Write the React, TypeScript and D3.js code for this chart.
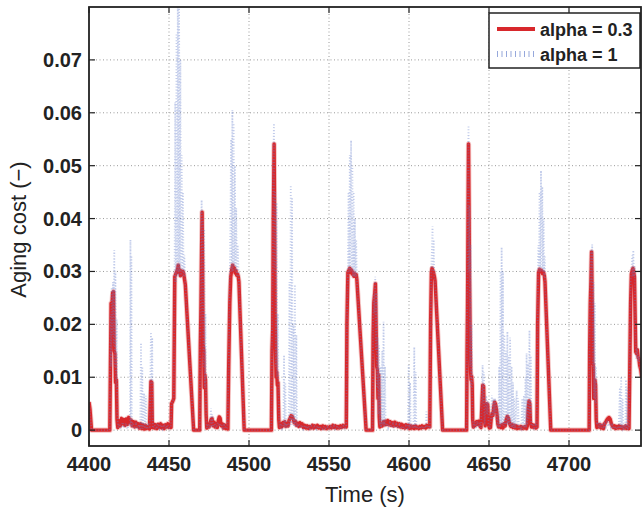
import React from "react";
import * as d3 from "d3";

const xTicks = [4400, 4450, 4500, 4550, 4600, 4650, 4700];
const yTicks = [0, 0.01, 0.02, 0.03, 0.04, 0.05, 0.06, 0.07];
const yTickLabels = ["0", "0.01", "0.02", "0.03", "0.04", "0.05", "0.06", "0.07"];
const seriesNames = ["alpha = 0.3", "alpha = 1"];

// alpha = 0.3 (red): [time, aging cost]
const alpha03: [number, number][] = [
  [4400, 0.0053], [4400.6, 0.004], [4401.6, 0], [4413, 0], [4413.4, 0.012], [4413.8, 0.024],
  [4414.3, 0.0235], [4414.8, 0.026], [4415.3, 0.0262], [4415.7, 0.015], [4416.2, 0.0145],
  [4416.6, 0.009], [4417.1, 0.0095], [4417.5, 0.002], [4418, 0.0005], [4418.7, 0.0018],
  [4419.5, 0.0008], [4420.3, 0.0022], [4421, 0.0012], [4421.8, 0.002], [4422.5, 0.0009],
  [4423.3, 0.0021], [4424, 0.0011], [4424.8, 0.0024], [4425.5, 0.0014], [4426.3, 0.0019],
  [4427, 0.0008], [4427.8, 0.0016], [4428.6, 0.0006], [4429.3, 0.0015], [4430, 0.0007],
  [4430.8, 0.0012], [4431.5, 0.0004], [4432.3, 0.0012], [4433, 0.0003], [4433.8, 0.001],
  [4434.5, 0.0002], [4435.3, 0.0009], [4436, 0.0003], [4437, 0.0007], [4437.8, 0.0002],
  [4438.3, 0.005], [4438.7, 0.0092], [4439.2, 0.009], [4439.6, 0.0005], [4440.3, 0.0012],
  [4441, 0.0004], [4441.8, 0.001], [4442.5, 0.0003], [4443.3, 0.0011], [4444, 0.0005],
  [4444.8, 0.0012], [4445.5, 0.0004], [4446.3, 0.0009], [4447, 0.0003], [4447.8, 0.001],
  [4448.5, 0.0006], [4449.3, 0.0012], [4450, 0.0005], [4450.8, 0.001], [4451.3, 0.0005],
  [4451.6, 0.005], [4452.4, 0.0055], [4453, 0.006], [4453.6, 0.029], [4454.2, 0.0295],
  [4454.8, 0.03], [4455.4, 0.0305], [4455.8, 0.0312], [4456.2, 0.0298], [4456.7, 0.0303],
  [4457.2, 0.0292], [4457.7, 0.0301], [4458.2, 0.0296], [4458.7, 0.03], [4459.2, 0.0295],
  [4459.7, 0.0285], [4460.2, 0.0275], [4465.4, 0], [4469.2, 0], [4469.6, 0.016], [4470, 0.024],
  [4470.4, 0.035], [4470.7, 0.0412], [4471, 0.03], [4471.3, 0.016], [4471.7, 0.015],
  [4472, 0.008], [4472.4, 0.0105], [4472.8, 0.0095], [4473.2, 0.003], [4473.6, 0.0004],
  [4474.3, 0.0011], [4475, 0.0006], [4475.6, 0.0013], [4476.3, 0.002], [4476.9, 0.0022],
  [4477.5, 0.0008], [4478.2, 0.0015], [4478.8, 0.0006], [4479.5, 0.0012], [4480.2, 0.0005],
  [4480.8, 0.0018], [4481.4, 0.0025], [4482, 0.0022], [4482.6, 0.0008], [4483.3, 0.0012],
  [4484, 0.0004], [4484.7, 0.001], [4485.4, 0.0003], [4486.2, 0.0006], [4486.8, 0.0002],
  [4487.3, 0.012], [4488, 0.024], [4488.6, 0.029], [4489.3, 0.0305], [4489.8, 0.0312],
  [4490.3, 0.0302], [4490.8, 0.0307], [4491.3, 0.0297], [4491.8, 0.0302], [4492.3, 0.0293],
  [4492.8, 0.0295], [4493.3, 0.029], [4493.7, 0.028], [4497, 0], [4514, 0], [4514.4, 0.015],
  [4514.8, 0.019], [4515.2, 0.04], [4515.7, 0.0541], [4516, 0.04], [4516.3, 0.022],
  [4516.6, 0.015], [4516.9, 0.01], [4517.3, 0.011], [4517.7, 0.0085], [4518.1, 0.009],
  [4518.6, 0.002], [4519, 0.0005], [4519.7, 0.0012], [4520.4, 0.0006], [4521.1, 0.0014],
  [4521.8, 0.0009], [4522.4, 0.0016], [4523, 0.0007], [4523.7, 0.0012], [4524.4, 0.0008],
  [4525, 0.0018], [4525.6, 0.0022], [4526.3, 0.0027], [4527, 0.0026], [4527.6, 0.0021],
  [4528.3, 0.0014], [4529, 0.0017], [4529.7, 0.0009], [4530.4, 0.0013], [4531.1, 0.0007],
  [4531.8, 0.0014], [4532.5, 0.0008], [4533.2, 0.0012], [4534, 0.0005], [4534.8, 0.0009],
  [4535.6, 0.0004], [4536.4, 0.0008], [4537.2, 0.0003], [4538, 0.0007], [4538.8, 0.0004],
  [4539.6, 0.0009], [4540.4, 0.0004], [4541.2, 0.0008], [4542, 0.0005], [4542.8, 0.0009],
  [4543.6, 0.0004], [4544.4, 0.0007], [4545.2, 0.0003], [4546, 0.0008], [4546.8, 0.0004],
  [4547.6, 0.0007], [4548.4, 0.0003], [4549.2, 0.0006], [4550, 0.0004], [4550.8, 0.0007],
  [4551.6, 0.0004], [4552.4, 0.0009], [4553.2, 0.0005], [4554, 0.0008], [4554.8, 0.0004],
  [4555.6, 0.0007], [4556.4, 0.0004], [4557.2, 0.0008], [4558, 0.0005], [4558.8, 0.0009],
  [4559.6, 0.0006], [4560.4, 0.0008], [4560.8, 0.0006], [4561.2, 0.02], [4561.8, 0.0298],
  [4562.4, 0.0302], [4563, 0.0306], [4563.5, 0.0298], [4564, 0.0303], [4564.5, 0.0295],
  [4565, 0.0299], [4565.5, 0.0291], [4566, 0.0296], [4566.5, 0.0292], [4567, 0.0294],
  [4567.4, 0.0285], [4573.2, 0], [4577.2, 0], [4577.6, 0.018], [4578, 0.024], [4578.6, 0.026],
  [4579, 0.0277], [4579.4, 0.02], [4579.8, 0.012], [4580.2, 0.0115], [4580.6, 0.006],
  [4581, 0.0105], [4581.4, 0.0025], [4581.8, 0.0006], [4582.5, 0.0012], [4583.2, 0.0008],
  [4584, 0.0016], [4584.7, 0.001], [4585.4, 0.0017], [4586.1, 0.0011], [4586.8, 0.0018],
  [4587.5, 0.001], [4588.2, 0.0016], [4589, 0.0009], [4589.7, 0.0014], [4590.4, 0.0008],
  [4591.1, 0.0015], [4591.8, 0.0009], [4592.5, 0.0013], [4593.2, 0.0007], [4594, 0.0012],
  [4594.7, 0.0006], [4595.4, 0.0011], [4596.1, 0.0005], [4596.8, 0.0009], [4597.5, 0.0004],
  [4598.2, 0.001], [4599, 0.0005], [4599.7, 0.0009], [4600.4, 0.0003], [4601.1, 0.0008],
  [4601.8, 0.0004], [4602.5, 0.0007], [4603.2, 0.0003], [4604, 0.0008], [4604.7, 0.0004],
  [4605.4, 0.0006], [4606.1, 0.0003], [4606.8, 0.0007], [4607.5, 0.0004], [4608.2, 0.0008],
  [4609, 0.0005], [4609.7, 0.0007], [4610.4, 0.0004], [4611.1, 0.0009], [4611.8, 0.0006],
  [4612.5, 0.0008], [4613, 0.0006], [4613.5, 0.02], [4614, 0.0298], [4614.4, 0.0306],
  [4614.9, 0.0302], [4615.4, 0.0297], [4615.9, 0.029], [4616.3, 0.0282], [4621, 0],
  [4636, 0], [4636.3, 0.015], [4636.6, 0.024], [4636.9, 0.04], [4637.2, 0.0541],
  [4637.5, 0.043], [4637.8, 0.029], [4638.2, 0.0185], [4638.5, 0.011], [4638.8, 0.0095],
  [4639.1, 0.0102], [4639.5, 0.0085], [4639.8, 0.002], [4640.2, 0.0006], [4640.8, 0.0013],
  [4641.5, 0.0009], [4642.2, 0.0016], [4642.9, 0.0011], [4643.6, 0.0017], [4644.3, 0.0008],
  [4645, 0.0005], [4645.6, 0.005], [4646.1, 0.0085], [4646.6, 0.0083], [4647.1, 0.002],
  [4647.6, 0.0008], [4648.2, 0.005], [4648.7, 0.005], [4649.2, 0.0048], [4649.7, 0.001],
  [4650.3, 0.0004], [4650.9, 0.0005], [4651.5, 0.0025], [4652, 0.0032], [4652.5, 0.0028],
  [4653, 0.0045], [4653.5, 0.0053], [4654, 0.005], [4654.5, 0.0042], [4655, 0.003],
  [4655.5, 0.0012], [4656, 0.0006], [4656.7, 0.0008], [4657.3, 0.0005], [4658, 0.001],
  [4658.7, 0.0004], [4659.4, 0.0012], [4660.1, 0.0008], [4660.8, 0.002], [4661.5, 0.0026],
  [4662.2, 0.0022], [4662.9, 0.0012], [4663.6, 0.0007], [4664.3, 0.0011], [4665, 0.0005],
  [4665.7, 0.0009], [4666.4, 0.0004], [4667.1, 0.0008], [4667.8, 0.0003], [4668.5, 0.0006],
  [4669.2, 0.0004], [4669.9, 0.0007], [4670.6, 0.0003], [4671.3, 0.0006], [4672, 0.0004],
  [4672.7, 0.0007], [4673.4, 0.0003], [4674, 0.0008], [4674.5, 0.004], [4675, 0.0055],
  [4675.5, 0.005], [4675.9, 0.0015], [4676.5, 0.0006], [4677.2, 0.001], [4677.9, 0.0005],
  [4678.6, 0.0009], [4679.3, 0.0004], [4680, 0.0006], [4680.4, 0.02], [4681, 0.0298],
  [4681.6, 0.0304], [4682.2, 0.03], [4682.8, 0.0302], [4683.4, 0.0296], [4684, 0.0299],
  [4684.6, 0.0292], [4685, 0.028], [4688.6, 0], [4712.6, 0], [4712.9, 0.015], [4713.3, 0.024],
  [4713.7, 0.028], [4714.1, 0.0337], [4714.5, 0.024], [4714.8, 0.0125], [4715.1, 0.0125],
  [4715.4, 0.006], [4715.8, 0.0062], [4716.2, 0.0095], [4716.6, 0.0085], [4717, 0.002],
  [4717.4, 0.0005], [4718, 0.0011], [4718.7, 0.0006], [4719.4, 0.001], [4720.1, 0.0004],
  [4720.8, 0.0009], [4721.5, 0.0003], [4722.2, 0.0012], [4722.9, 0.0015], [4723.6, 0.0019],
  [4724.3, 0.0022], [4725, 0.0024], [4725.7, 0.0021], [4726.4, 0.0013], [4727.1, 0.0008],
  [4727.8, 0.0005], [4728.5, 0.0008], [4729.2, 0.0003], [4729.9, 0.0007], [4730.6, 0.0004],
  [4731.3, 0.0008], [4732, 0.0004], [4732.7, 0.0007], [4733.4, 0.0003], [4734.1, 0.0006],
  [4734.8, 0.0004], [4735.5, 0.0008], [4736.2, 0.0003], [4736.9, 0.0006], [4737.5, 0.0003],
  [4738, 0.012], [4738.5, 0.024], [4739, 0.0295], [4739.5, 0.0302], [4740, 0.0306],
  [4740.5, 0.0298], [4740.9, 0.029], [4741.3, 0.022], [4741.7, 0.0148], [4742.2, 0.0145],
  [4742.7, 0.0152], [4743.2, 0.0138], [4743.7, 0.0135], [4744.2, 0.0122], [4744.8, 0.0115],
  [4745.5, 0.01],
];

// alpha = 1 (blue dotted): [time, aging cost]
const alpha1: [number, number][] = [
  [4400, 0.0053], [4401.6, 0], [4413, 0], [4413.5, 0.022], [4413.8, 0.012], [4414.2, 0.027],
  [4414.6, 0.018], [4415, 0.028], [4415.4, 0.016], [4415.8, 0.034], [4416.2, 0.012],
  [4416.5, 0.03], [4416.9, 0.008], [4417.3, 0.021], [4417.7, 0.003], [4418.2, 0.0005],
  [4419, 0.0012], [4420, 0.0003], [4421, 0.0015], [4422, 0.0004], [4423, 0.0013],
  [4424, 0.0002], [4425, 0.0012], [4425.6, 0.0008], [4425.9, 0.036], [4426.2, 0.001],
  [4426.5, 0.033], [4426.8, 0.0005], [4427.6, 0.0014], [4428.5, 0.0003], [4429.4, 0.0011],
  [4430.3, 0.0002], [4431.2, 0.001], [4432, 0.0002], [4432.5, 0.0165], [4432.9, 0.0003],
  [4433.3, 0.012], [4433.7, 0.0002], [4434.4, 0.007], [4434.9, 0.0003], [4435.5, 0.0065],
  [4436, 0.0002], [4437, 0.001], [4438, 0.0003], [4438.7, 0.0185], [4439.1, 0.009],
  [4439.5, 0.0175], [4439.9, 0.0004], [4441, 0.001], [4442, 0.0002], [4443, 0.0012],
  [4444, 0.0003], [4445, 0.001], [4446, 0.0002], [4447, 0.0011], [4448, 0.0003],
  [4449, 0.001], [4450, 0.0004], [4451.2, 0.0006], [4451.6, 0.005], [4453, 0.006],
  [4453.5, 0.03], [4453.9, 0.062], [4454.3, 0.028], [4454.7, 0.075], [4455.1, 0.03],
  [4455.5, 0.08], [4455.9, 0.029], [4456.3, 0.082], [4456.7, 0.03], [4457.1, 0.07],
  [4457.5, 0.029], [4457.9, 0.052], [4458.3, 0.03], [4458.7, 0.045], [4459.1, 0.029],
  [4459.6, 0.033], [4460.2, 0.0275], [4465.4, 0], [4469.2, 0], [4469.6, 0.02], [4470, 0.03],
  [4470.4, 0.0435], [4470.8, 0.02], [4471.2, 0.04], [4471.6, 0.012], [4472, 0.038],
  [4472.4, 0.008], [4472.8, 0.022], [4473.2, 0.003], [4473.6, 0.0004], [4474.5, 0.0012],
  [4475.5, 0.0004], [4476.2, 0.0041], [4476.6, 0.0005], [4477, 0.003], [4477.5, 0.0006],
  [4478.5, 0.0012], [4479.5, 0.0004], [4480.5, 0.0014], [4481.5, 0.0008], [4482.5, 0.0012],
  [4483.5, 0.0004], [4484.5, 0.001], [4485.5, 0.0003], [4486.5, 0.0005], [4487.3, 0.012],
  [4488, 0.03], [4488.4, 0.04], [4488.8, 0.055], [4489.2, 0.03], [4489.6, 0.0605],
  [4490, 0.03], [4490.4, 0.058], [4490.8, 0.031], [4491.2, 0.05], [4491.6, 0.03],
  [4492, 0.042], [4492.5, 0.029], [4492.9, 0.035], [4493.7, 0.028], [4497, 0], [4514, 0],
  [4514.4, 0.02], [4514.8, 0.03], [4515.2, 0.05], [4515.6, 0.058], [4516, 0.03],
  [4516.4, 0.045], [4516.8, 0.012], [4517.2, 0.043], [4517.6, 0.01], [4518, 0.022],
  [4518.4, 0.009], [4518.8, 0.002], [4519.3, 0.0005], [4520, 0.0012], [4520.7, 0.0003],
  [4521.5, 0.0008], [4521.9, 0.0142], [4522.3, 0.0006], [4522.7, 0.009], [4523.1, 0.0004],
  [4524, 0.0012], [4524.8, 0.0006], [4525.3, 0.028], [4525.7, 0.0008], [4526.1, 0.0463],
  [4526.5, 0.001], [4526.9, 0.044], [4527.3, 0.0015], [4527.8, 0.02], [4528.2, 0.0008],
  [4528.7, 0.0275], [4529.1, 0.0006], [4529.6, 0.018], [4530, 0.0005], [4531, 0.0012],
  [4532, 0.0004], [4533, 0.001], [4534, 0.0002], [4535, 0.0009], [4536, 0.0003],
  [4537, 0.0008], [4538, 0.0002], [4539, 0.0008], [4540, 0.0003], [4541, 0.0007],
  [4542, 0.0002], [4543, 0.0008], [4544, 0.0003], [4545, 0.0006], [4546, 0.0002],
  [4547, 0.0007], [4548, 0.0003], [4549, 0.0006], [4550, 0.0002], [4551, 0.0007],
  [4552, 0.0003], [4553, 0.0008], [4554, 0.0002], [4555, 0.0006], [4556, 0.0003],
  [4557, 0.0007], [4558, 0.0002], [4559, 0.0008], [4560, 0.0004], [4560.8, 0.0006],
  [4561.2, 0.02], [4561.8, 0.03], [4562.2, 0.045], [4562.6, 0.03], [4563, 0.052],
  [4563.4, 0.03], [4563.8, 0.0548], [4564.2, 0.03], [4564.6, 0.05], [4565, 0.029],
  [4565.4, 0.045], [4565.8, 0.029], [4566.2, 0.04], [4566.6, 0.029], [4567, 0.036],
  [4567.4, 0.0285], [4573.2, 0], [4577.2, 0], [4577.6, 0.02], [4578, 0.026], [4578.5, 0.022],
  [4578.9, 0.029], [4579.3, 0.015], [4579.7, 0.026], [4580.1, 0.008], [4580.5, 0.0175],
  [4580.9, 0.003], [4581.3, 0.016], [4581.7, 0.001], [4582.2, 0.012], [4582.6, 0.0005],
  [4583.3, 0.015], [4583.7, 0.001], [4584.1, 0.0205], [4584.5, 0.0008], [4585, 0.012],
  [4585.4, 0.0006], [4586.2, 0.0013], [4587, 0.0004], [4588, 0.0014], [4589, 0.0005],
  [4590, 0.0012], [4591, 0.0004], [4592, 0.0011], [4593, 0.0003], [4594, 0.001],
  [4595, 0.0003], [4596, 0.0008], [4597, 0.0002], [4598, 0.0008], [4599, 0.0003],
  [4599.3, 0.0004], [4599.8, 0.0123], [4600.2, 0.0003], [4600.7, 0.009], [4601.1, 0.0005],
  [4602, 0.001], [4602.8, 0.0003], [4603.3, 0.0157], [4603.7, 0.0004], [4604.2, 0.011],
  [4604.6, 0.0003], [4605.5, 0.0007], [4606.5, 0.0002], [4607.5, 0.0008], [4608.5, 0.0003],
  [4609.5, 0.0007], [4610.5, 0.0004], [4610.9, 0.0035], [4611.3, 0.0005], [4612, 0.0008],
  [4613, 0.0006], [4613.5, 0.02], [4614, 0.031], [4614.4, 0.035], [4614.7, 0.0385],
  [4615, 0.03], [4615.4, 0.036], [4615.8, 0.029], [4616.3, 0.0282], [4621, 0], [4636, 0],
  [4636.3, 0.02], [4636.6, 0.03], [4636.9, 0.05], [4637.2, 0.0576], [4637.5, 0.03],
  [4637.8, 0.0425], [4638.2, 0.012], [4638.5, 0.035], [4638.8, 0.008], [4639.1, 0.02],
  [4639.5, 0.006], [4639.8, 0.002], [4640.2, 0.0005], [4641, 0.0015], [4641.8, 0.0004],
  [4642.6, 0.0017], [4643.4, 0.0005], [4644.2, 0.0014], [4645, 0.0004], [4645.6, 0.006],
  [4646, 0.0123], [4646.4, 0.005], [4646.8, 0.011], [4647.2, 0.001], [4647.8, 0.004],
  [4648.3, 0.0065], [4648.8, 0.003], [4649.3, 0.0055], [4649.8, 0.0008], [4650.5, 0.0004],
  [4651.2, 0.002], [4651.8, 0.0066], [4652.3, 0.002], [4652.8, 0.006], [4653.3, 0.003],
  [4653.8, 0.006], [4654.3, 0.002], [4654.8, 0.005], [4655.3, 0.001], [4655.8, 0.0005],
  [4656.4, 0.012], [4656.8, 0.0005], [4657.2, 0.03], [4657.6, 0.001], [4657.9, 0.0346],
  [4658.3, 0.001], [4658.7, 0.03], [4659.1, 0.0008], [4659.6, 0.018], [4660, 0.0007],
  [4660.5, 0.015], [4660.9, 0.001], [4661.5, 0.0186], [4661.9, 0.001], [4662.3, 0.014],
  [4662.7, 0.0008], [4663.2, 0.0175], [4663.6, 0.0006], [4664.1, 0.012], [4664.5, 0.0005],
  [4665, 0.009], [4665.4, 0.0004], [4665.9, 0.006], [4666.3, 0.0004], [4667.3, 0.0075],
  [4667.7, 0.0005], [4668.2, 0.006], [4668.6, 0.0003], [4669.5, 0.0007], [4670.2, 0.0003],
  [4670.8, 0.006], [4671.2, 0.0003], [4671.8, 0.0065], [4672.2, 0.0004], [4672.8, 0.01],
  [4673.2, 0.0005], [4673.5, 0.0145], [4673.9, 0.001], [4674.4, 0.0125], [4674.8, 0.002],
  [4675.3, 0.0189], [4675.7, 0.003], [4676.1, 0.014], [4676.5, 0.0008], [4677.3, 0.0012],
  [4678.2, 0.0004], [4679, 0.001], [4679.8, 0.0005], [4680.4, 0.022], [4680.8, 0.035],
  [4681.2, 0.03], [4681.6, 0.045], [4682, 0.03], [4682.5, 0.0491], [4682.9, 0.03],
  [4683.3, 0.046], [4683.7, 0.03], [4684.1, 0.04], [4684.5, 0.029], [4684.9, 0.033],
  [4685, 0.028], [4688.6, 0], [4712.6, 0], [4712.9, 0.02], [4713.3, 0.028], [4713.7, 0.034],
  [4714.1, 0.028], [4714.5, 0.0351], [4714.9, 0.012], [4715.3, 0.028], [4715.7, 0.006],
  [4716.1, 0.024], [4716.5, 0.005], [4716.9, 0.012], [4717.3, 0.001], [4718, 0.0015],
  [4718.7, 0.0004], [4719.4, 0.0016], [4720.1, 0.0005], [4720.8, 0.0013], [4721.5, 0.0003],
  [4722.2, 0.0012], [4723, 0.0006], [4723.8, 0.0015], [4724.6, 0.0007], [4725.4, 0.0016],
  [4726.2, 0.0005], [4727, 0.001], [4727.8, 0.0003], [4728.6, 0.0008], [4729.4, 0.0002],
  [4730.2, 0.0007], [4731, 0.0003], [4731.8, 0.008], [4732.2, 0.0003], [4732.6, 0.0101],
  [4733, 0.0004], [4733.5, 0.006], [4733.9, 0.0003], [4734.8, 0.0008], [4735.2, 0.0003],
  [4735.6, 0.0095], [4736, 0.0004], [4736.4, 0.008], [4736.8, 0.0003], [4737.5, 0.0004],
  [4738, 0.015], [4738.5, 0.028], [4739, 0.03], [4739.5, 0.033], [4739.9, 0.029],
  [4740.2, 0.034], [4740.6, 0.029], [4741, 0.031], [4741.3, 0.022], [4741.7, 0.016],
  [4742.1, 0.0135], [4742.6, 0.0155], [4743.1, 0.013], [4743.6, 0.014], [4744.2, 0.012],
  [4744.8, 0.0115], [4745.5, 0.01],
];

const W = 642;
const H = 510;
const L = 89, R = 641, T = 7, B = 446;

export default function App() {
  const x = d3.scaleLinear().domain([4400, 4745]).range([L, R]);
  const y = d3.scaleLinear().domain([-0.003, 0.08]).range([B, T]);
  const line = d3
    .line<[number, number]>()
    .x((d) => x(d[0]))
    .y((d) => y(d[1]));
  const font = "'Liberation Sans', Arial, Helvetica, sans-serif";
  const red = "#d8282c";
  const blue = "#6b84cc";
  return (
    <svg
      width={W}
      height={H}
      style={{ position: "absolute", left: 0, top: 0, background: "#fff" }}
      fontFamily={font}
    >
      <defs>
        <clipPath id="plot">
          <rect x={L} y={T} width={R - L} height={B - T} />
        </clipPath>
      </defs>
      <rect x={0} y={0} width={W} height={H} fill="#fff" />
      {/* grid */}
      {xTicks.slice(1).map((t) => (
        <line key={"gx" + t} x1={x(t)} x2={x(t)} y1={T} y2={B} stroke="#9a9a9a" strokeWidth={1} strokeDasharray="1 2.5" />
      ))}
      {yTicks.map((t) => (
        <line key={"gy" + t} x1={L} x2={R} y1={y(t)} y2={y(t)} stroke="#9a9a9a" strokeWidth={1} strokeDasharray="1 2.5" />
      ))}
      <g clipPath="url(#plot)">
        <path d={line(alpha03) || ""} fill="none" stroke="#e98c8c" strokeWidth={5.2} strokeLinejoin="round" opacity={0.5} />
        <path d={line(alpha03) || ""} fill="none" stroke={red} strokeWidth={3.4} strokeLinejoin="round" />
        <path d={line(alpha1) || ""} fill="none" stroke={blue} strokeWidth={1.8} strokeDasharray="1 1.9" opacity={0.42} />
      </g>
      {/* axes box */}
      <rect x={L} y={T} width={R - L} height={B - T} fill="none" stroke="#222" strokeWidth={1.8} />
      {xTicks.map((t) => (
        <g key={"xt" + t}>
          <line x1={x(t)} x2={x(t)} y1={B} y2={B - 6} stroke="#222" strokeWidth={1.2} />
          <line x1={x(t)} x2={x(t)} y1={T} y2={T + 6} stroke="#222" strokeWidth={1.2} />
          <text x={x(t)} y={471} textAnchor="middle" fontSize={20} fontWeight="bold" fill="#222">
            {t}
          </text>
        </g>
      ))}
      {yTicks.map((t, i) => (
        <g key={"yt" + t}>
          <line x1={L} x2={L + 6} y1={y(t)} y2={y(t)} stroke="#222" strokeWidth={1.2} />
          <line x1={R} x2={R - 6} y1={y(t)} y2={y(t)} stroke="#222" strokeWidth={1.2} />
          <text x={82} y={y(t) + 7} textAnchor="end" fontSize={20} fontWeight="bold" fill="#222">
            {yTickLabels[i]}
          </text>
        </g>
      ))}
      <text x={(L + R) / 2} y={502} textAnchor="middle" fontSize={22} fill="#222">
        Time (s)
      </text>
      <text transform={`translate(26, ${(T + B) / 2 + 3}) rotate(-90)`} textAnchor="middle" fontSize={22} fill="#222">
        Aging cost (−)
      </text>
      {/* legend */}
      <rect x={489} y={13} width={151} height={55} fill="#fff" stroke="#222" strokeWidth={1.5} />
      <line x1={497} x2={535} y1={29} y2={29} stroke={red} strokeWidth={4} />
      <text x={540} y={36} fontSize={18} fontWeight="bold" fill="#222">
        {seriesNames[0]}
      </text>
      <line x1={497} x2={535} y1={54} y2={54} stroke={blue} strokeWidth={6} strokeDasharray="1 3.5" opacity={0.7} />
      <text x={540} y={61} fontSize={18} fontWeight="bold" fill="#222">
        {seriesNames[1]}
      </text>
    </svg>
  );
}
